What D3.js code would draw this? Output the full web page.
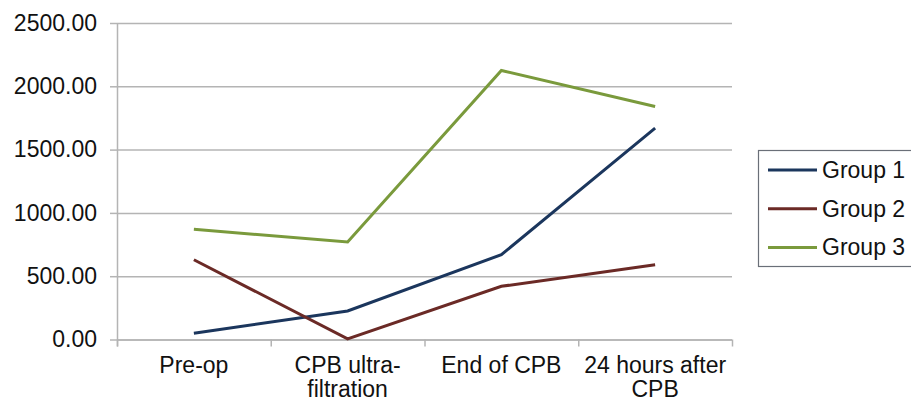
<!DOCTYPE html>
<html>
<head>
<meta charset="utf-8">
<script src="https://cdn.jsdelivr.net/npm/d3@7"></script>
<style>
  html, body { margin: 0; padding: 0; background: #fff; }
  svg { display: block; font-family: "Liberation Sans", Arial, sans-serif; }
</style>
</head>
<body>
<svg id="chart" width="911" height="401"></svg>
<script>
// Timepoints (line breaks mark where the axis label wraps)
const categories = ["Pre-op", "CPB ultra-\nfiltration", "End of CPB", "24 hours after\nCPB"];
const seriesNames = ["Group 1", "Group 2", "Group 3"];
const group1 = [50, 225, 670, 1670];
const group2 = [630, 5, 420, 590];
const group3 = [870, 770, 2125, 1840];
const yTicks = [0, 500, 1000, 1500, 2000, 2500];
const colors = ["#1B365D", "#6B2A26", "#7A9A3C"];

const seriesValues = [group1, group2, group3];

const svg = d3.select("#chart");
const plotLeft = 117, plotRight = 732, plotTop = 23, plotBottom = 339.5;
const gridColor = "#b4b4b4";
const fontSize = 23;

const x = d3.scaleBand().domain(d3.range(categories.length)).range([plotLeft, plotRight]);
const xEdges = d3.scaleLinear().domain([0, categories.length]).range([plotLeft, plotRight]);
const y = d3.scaleLinear().domain([0, 2500]).range([plotBottom, plotTop]);

// Horizontal gridlines
const grid = svg.append("g").attr("transform", `translate(${plotLeft},0)`)
  .call(d3.axisLeft(y).tickValues(yTicks).tickSize(-(plotRight - plotLeft)).tickFormat(""));
grid.select(".domain").remove();
grid.selectAll("line").attr("stroke", gridColor).attr("stroke-width", 1.5);

// Y axis with value labels
const yAxis = svg.append("g").attr("transform", `translate(${plotLeft},0)`)
  .call(d3.axisLeft(y).tickValues(yTicks).tickSize(7).tickPadding(13)
    .tickFormat(d3.format(".2f")));
yAxis.select(".domain").attr("stroke", gridColor).attr("stroke-width", 1.5)
  .attr("d", `M0.5,${plotTop}V${plotBottom + 7}`);
yAxis.selectAll("line").attr("stroke", gridColor).attr("stroke-width", 1.5);
yAxis.selectAll("text").attr("font-size", fontSize).attr("fill", "#111")
  .attr("font-family", "'Liberation Sans', Arial, sans-serif");

// X axis: ticks at category boundaries
const xAxis = svg.append("g").attr("transform", `translate(0,${plotBottom})`)
  .call(d3.axisBottom(xEdges).tickValues(d3.range(categories.length + 1))
    .tickSize(7).tickFormat(""));
xAxis.select(".domain").attr("stroke", gridColor).attr("stroke-width", 1.5)
  .attr("d", `M${plotLeft},0.5H${plotRight}`);
xAxis.selectAll("line").attr("stroke", gridColor).attr("stroke-width", 1.5);

// Category labels, centred in each band
const labels = svg.append("g").attr("transform", `translate(0,${plotBottom})`)
  .call(d3.axisBottom(x).tickSize(0).tickFormat(""));
labels.select(".domain").remove();
labels.selectAll(".tick").each(function (d) {
  const t = d3.select(this).append("text")
    .attr("text-anchor", "middle").attr("font-size", fontSize).attr("fill", "#111")
    .attr("font-family", "'Liberation Sans', Arial, sans-serif");
  categories[d].split("\n").forEach((line, i) => {
    t.append("tspan").attr("x", 0).attr("y", 33 + i * 24.5).text(line);
  });
});

// Series lines
const line = d3.line()
  .x((d, i) => x(i) + x.bandwidth() / 2)
  .y(d => y(d));

svg.append("g").selectAll("path")
  .data(seriesValues)
  .join("path")
  .attr("d", line)
  .attr("fill", "none")
  .attr("stroke", (d, i) => colors[i])
  .attr("stroke-width", 3)
  .attr("stroke-linejoin", "miter");

// Legend
const legend = svg.append("g");
legend.append("rect")
  .attr("x", 758.5).attr("y", 150.5).attr("width", 170).attr("height", 116)
  .attr("fill", "#fff").attr("stroke", "#6a6f78").attr("stroke-width", 1.2);
const rows = legend.selectAll("g.row").data(seriesNames).join("g")
  .attr("class", "row")
  .attr("transform", (d, i) => `translate(768,${170 + i * 38.7})`);
rows.append("line").attr("x1", 0).attr("x2", 49).attr("y1", 0).attr("y2", 0)
  .attr("stroke", (d, i) => colors[i]).attr("stroke-width", 3);
rows.append("text").attr("x", 54).attr("y", 8).attr("font-size", fontSize).attr("fill", "#111")
  .text(d => d);
</script>
</body>
</html>
